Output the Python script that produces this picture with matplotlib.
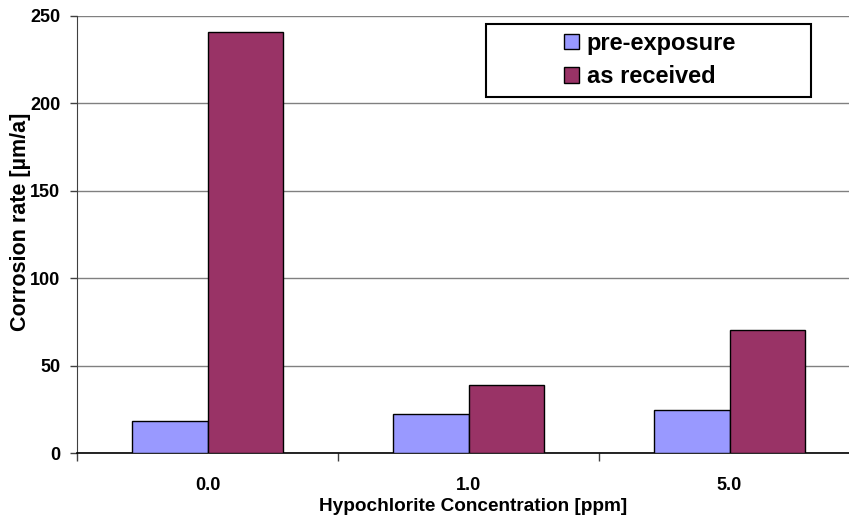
import numpy as np
from matplotlib import pyplot as plt
from matplotlib.patches import Patch, Rectangle

plt.rcParams['font.family'] = ['Liberation Sans', 'DejaVu Sans']
plt.rcParams['font.weight'] = 'bold'

concentrations = ["0.0", "1.0", "5.0"]
pre_exposure = [18.6, 22.5, 24.6]
as_received = [240.7, 38.9, 70.5]

blue = '#9999FF'
maroon = '#993366'

W, H = 849, 515


def px(x, y):
    # pixel position (from top-left) -> figure fraction
    return x / W, (H - y) / H


fig = plt.figure(figsize=(W / 100, H / 100), dpi=100)
# axes box in pixels: left 77, right 860 (runs past the figure edge), top 16, zero line 453
ax = fig.add_axes([77 / W, (H - 453.3) / H, (860 - 77) / W, (453.3 - 16) / H])

x = np.arange(len(concentrations))
width = 0.288
ax.bar(x - width / 2, pre_exposure, width, color=blue, edgecolor='black', linewidth=1.0, zorder=3)
ax.bar(x + width / 2, as_received, width, color=maroon, edgecolor='black', linewidth=1.0, zorder=3)

ax.set_xlim(-0.5, len(concentrations) - 0.5)
ax.set_ylim(0, 250)
ax.set_yticks(np.arange(0, 251, 50))
ax.yaxis.grid(True, color='#808080', linewidth=1.0, zorder=0)
ax.set_axisbelow(True)

# category labels sit in the middle, tick marks go between categories
ax.set_xticks(np.arange(-0.5, len(concentrations), 1.0))
ax.set_xticklabels([])
ax.set_xticks(x, minor=True)
ax.set_xticklabels(concentrations, minor=True, fontsize=13, fontweight='bold')
ax.tick_params(axis='x', which='minor', length=0, pad=17)
ax.tick_params(axis='x', which='major', length=6, width=1, color='#404040')
ax.tick_params(axis='y', length=5, width=1, color='#404040', labelsize=13, pad=7)
for lbl in ax.get_yticklabels():
    lbl.set_fontweight('bold')

for side in ['top', 'right']:
    ax.spines[side].set_visible(False)
ax.spines['left'].set_color('#404040')
ax.spines['bottom'].set_color('black')
ax.spines['bottom'].set_linewidth(1.2)

fig.text(*px(473, 511), "Hypochlorite Concentration [ppm]", fontsize=13.7, fontweight='bold',
         ha='center', va='baseline')
fig.text(*px(21, 222), "Corrosion rate [µm/a]", fontsize=15.5, fontweight='bold',
         ha='center', va='center', rotation=90)

# legend frame is wider than its entries, so draw it separately
x0, y0 = px(486, 97)
x1, y1 = px(811, 24)
fig.patches.append(Rectangle((x0, y0), x1 - x0, y1 - y0, transform=fig.transFigure,
                             facecolor='white', edgecolor='black', linewidth=1.5, zorder=5))
handles = [Patch(facecolor=blue, edgecolor='black', label='pre-exposure'),
           Patch(facecolor=maroon, edgecolor='black', label='as received')]
leg = fig.legend(handles=handles, loc='center', bbox_to_anchor=px(650, 60),
                 fontsize=17, frameon=False, handlelength=0.65, handleheight=0.65,
                 handletextpad=0.3, borderpad=0, labelspacing=0.45)
leg.set_zorder(6)
for t in leg.get_texts():
    t.set_fontweight('bold')

fig.savefig('out.png', dpi=100)
